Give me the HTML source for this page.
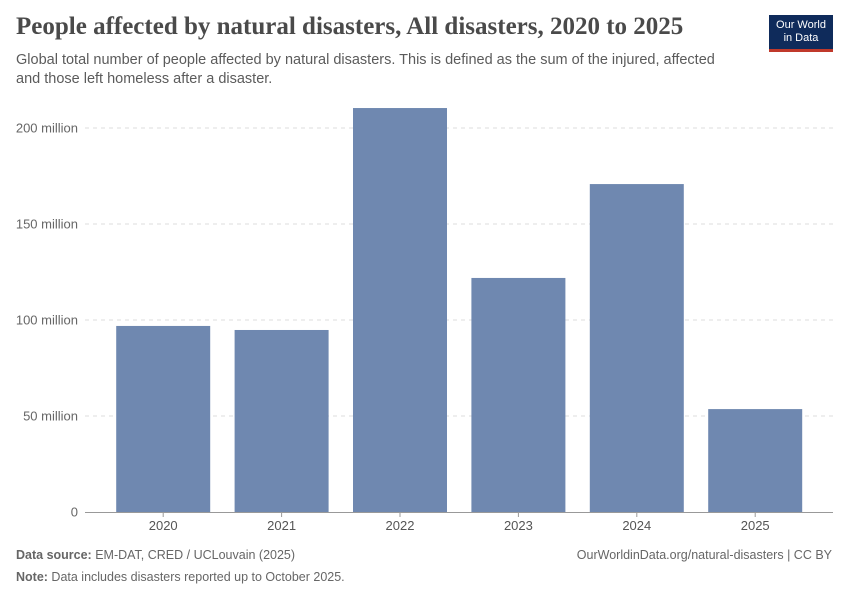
<!DOCTYPE html>
<html><head><meta charset="utf-8"><style>
body{margin:0;background:#fff;width:850px;height:600px;overflow:hidden;font-family:"Liberation Sans",sans-serif}
.t{position:absolute;left:16px;top:13px;font-family:"Liberation Serif",serif;font-size:25px;font-weight:bold;color:#4a4a4a}
.s{position:absolute;left:16px;top:51px;font-size:14.5px;color:#5b5b5b;line-height:19px;width:718px}
.logo{position:absolute;left:769px;top:15px;width:64px;height:37px;background:#0f2b5b;color:#fff;font-size:11px;line-height:13px;text-align:center;padding-top:0;border-bottom:3px solid #c0392b;box-sizing:border-box;display:flex;align-items:center;justify-content:center}
.f{position:absolute;font-size:12.5px;color:#666}
</style></head><body>
<div class="t">People affected by natural disasters, All disasters, 2020 to 2025</div>
<div class="s">Global total number of people affected by natural disasters. This is defined as the sum of the injured, affected and those left homeless after a disaster.</div>
<div class="logo">Our World<br>in Data</div>
<svg id="c" width="850" height="600" style="position:absolute;left:0;top:0"></svg>
<div class="f" style="left:16px;top:548px"><b>Data source:</b> EM-DAT, CRED / UCLouvain (2025)</div>
<div class="f" style="right:18px;top:548px">OurWorldinData.org/natural-disasters | CC BY</div>
<div class="f" style="left:16px;top:570px"><b>Note:</b> Data includes disasters reported up to October 2025.</div>
<script>
const categories=["2020","2021","2022","2023","2024","2025"];
const values=[96.9,94.8,210.4,121.9,170.8,53.6];
const ticks=[0,50,100,150,200];
const tickLabels=["0","50 million","100 million","150 million","200 million"];
const svg=document.getElementById('c');const NS="http://www.w3.org/2000/svg";
const y0=512,pxPer=1.92,x0=104,step=118.4,bw=94;
const y=v=>y0-v*pxPer;
function mk(t,a){const e=document.createElementNS(NS,t);for(const k in a)e.setAttribute(k,a[k]);svg.appendChild(e);return e;}
ticks.forEach((v,i)=>{
 if(v>0){const l=mk('line',{x1:85,x2:833,y1:y(v),y2:y(v),stroke:'#ddd','stroke-dasharray':'4,4'});
 
 }
 const t=mk('text',{x:78,y:y(v)+4.5,'text-anchor':'end','font-size':'13','fill':'#666','font-family':'Liberation Sans,sans-serif'});
 t.textContent=tickLabels[i];
 
 
});
categories.forEach((c,i)=>{
 const cx=x0+step*i+step/2;
 const r=mk('rect',{x:cx-bw/2,y:y(values[i]),width:bw,height:values[i]*pxPer,fill:'#6f88b0'});
 
 
 const t=mk('text',{x:cx,y:530,'text-anchor':'middle','font-size':'13','fill':'#555','font-family':'Liberation Sans,sans-serif'});
 t.textContent=c;
 
 
 const tk=mk('line',{x1:cx,x2:cx,y1:y0,y2:y0+5,stroke:'#999'});
 
 
});
const ax=mk('line',{x1:85,x2:833,y1:y0+0.5,y2:y0+0.5,stroke:'#999'});


</script>
</body></html>
